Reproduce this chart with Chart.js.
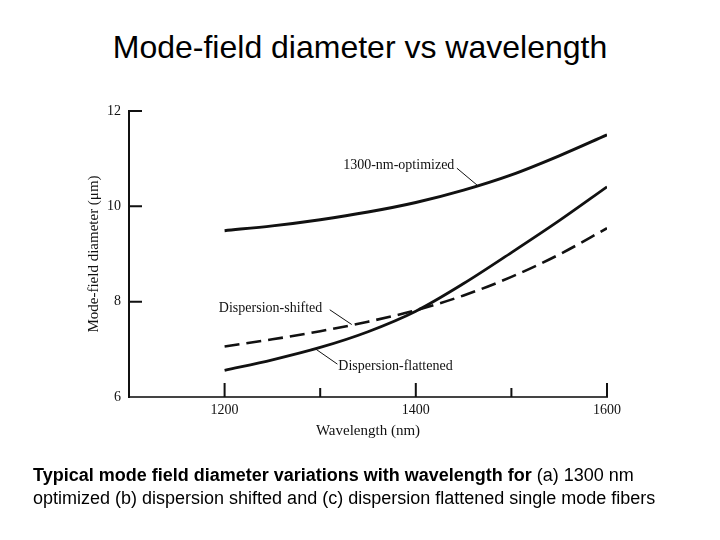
<!DOCTYPE html>
<html>
<head>
<meta charset="utf-8">
<script src="https://cdn.jsdelivr.net/npm/chart.js@4"></script>
<style>
  body { margin: 0; background: #fff; }
  #wrap { position: relative; width: 720px; height: 540px; overflow: hidden; }
  #my-chart { position: absolute; left: 0; top: 0; }
  #title {
    position: absolute; left: 0; top: 31px; width: 720px; text-align: center;
    font-family: "Liberation Sans", Arial, sans-serif; font-size: 32px; line-height: 32px; color: #000;
  }
  #caption {
    position: absolute; left: 33px; top: 464px; width: 680px;
    font-family: "Liberation Sans", Arial, sans-serif; font-size: 18px; line-height: 23px; color: #000;
  }
</style>
</head>
<body>
<div id="wrap">
  <div id="title">Mode-field diameter vs wavelength</div>
  <canvas id="my-chart" width="720" height="540"></canvas>
  <div id="caption"><b>Typical mode field diameter variations with wavelength for</b> (a) 1300 nm<br>optimized (b) dispersion shifted and (c) dispersion flattened single mode fibers</div>
</div>
<script>
//Data
const wavelengths = [1200, 1250, 1300, 1350, 1400, 1450, 1500, 1550, 1600];
const optimized1300 = [9.49, 9.59, 9.72, 9.88, 10.08, 10.34, 10.66, 11.06, 11.50];
const dispersionShifted = [7.06, 7.21, 7.38, 7.58, 7.82, 8.13, 8.52, 8.99, 9.54];
const dispersionFlattened = [6.56, 6.78, 7.04, 7.37, 7.80, 8.38, 9.03, 9.70, 10.41];
const xTickLabels = [1200, 1400, 1600];
const yTickLabels = [6, 8, 10, 12];

//Curve labels, in data units
const notes = [
  { text: "1300-nm-optimized", at: [1324, 10.87], from: [1443, 10.80], to: [1465, 10.43] },
  { text: "Dispersion-shifted", at: [1194, 7.86], from: [1310, 7.83], to: [1333, 7.52] },
  { text: "Dispersion-flattened", at: [1319, 6.64], from: [1318, 6.69], to: [1295, 7.01] },
];

const serif = '"Liberation Serif", "Times New Roman", serif';

function points(ys) {
  return wavelengths.map((w, i) => ({ x: w, y: ys[i] }));
}

const inwardTicks = {
  id: "inwardTicks",
  afterDraw(chart) {
    const { ctx, chartArea, scales } = chart;
    const x = scales.x;
    const y = scales.y;
    ctx.save();
    ctx.strokeStyle = "#111";
    ctx.lineWidth = 2;
    ctx.beginPath();
    y.ticks.forEach((t) => {
      if (t.value === y.min) return;
      const py = y.getPixelForValue(t.value);
      ctx.moveTo(chartArea.left, py);
      ctx.lineTo(chartArea.left + 13, py);
    });
    x.ticks.forEach((t) => {
      if (t.value === x.min) return;
      const px = x.getPixelForValue(t.value);
      const len = xTickLabels.includes(t.value) ? 14 : 9;
      ctx.moveTo(px, chartArea.bottom);
      ctx.lineTo(px, chartArea.bottom - len);
    });
    ctx.stroke();

    // curve labels with leader lines
    ctx.fillStyle = "#111";
    ctx.font = "14px " + serif;
    ctx.textAlign = "left";
    ctx.textBaseline = "middle";
    ctx.lineWidth = 1;
    notes.forEach((n) => {
      ctx.fillText(n.text, x.getPixelForValue(n.at[0]), y.getPixelForValue(n.at[1]));
      ctx.beginPath();
      ctx.moveTo(x.getPixelForValue(n.from[0]), y.getPixelForValue(n.from[1]));
      ctx.lineTo(x.getPixelForValue(n.to[0]), y.getPixelForValue(n.to[1]));
      ctx.stroke();
    });
    ctx.restore();
  },
};

const ctx = document.getElementById("my-chart").getContext("2d");

const data = {
  datasets: [
    {
      label: "1300-nm-optimized",
      data: points(optimized1300),
      borderColor: "#111",
      borderWidth: 3,
    },
    {
      label: "Dispersion-shifted",
      data: points(dispersionShifted),
      borderColor: "#111",
      borderWidth: 2.6,
      borderDash: [15, 7],
    },
    {
      label: "Dispersion-flattened",
      data: points(dispersionFlattened),
      borderColor: "#111",
      borderWidth: 2.8,
    },
  ],
};

const config = {
  type: "line",
  data: data,
  options: {
    responsive: false,
    animation: false,
    devicePixelRatio: 1,
    cubicInterpolationMode: "monotone",
    pointRadius: 0,
    fill: false,
    layout: {
      padding: { left: 81, right: 113, top: 111, bottom: 96 },
    },
    plugins: {
      legend: { display: false },
      tooltip: { enabled: false },
    },
    scales: {
      x: {
        type: "linear",
        min: 1100,
        max: 1600,
        afterFit: (s) => { s.height = 47; },
        grid: { display: false, drawTicks: false },
        border: { display: true, color: "#444", width: 2 },
        ticks: {
          stepSize: 100,
          autoSkip: false,
          maxRotation: 0,
          padding: 5,
          color: "#111",
          font: { family: serif, size: 14 },
          callback: (v) => (xTickLabels.includes(v) ? String(v) : ""),
        },
        title: {
          display: true,
          text: "Wavelength (nm)",
          color: "#111",
          font: { family: serif, size: 15 },
          padding: { top: 4, bottom: 4 },
        },
      },
      y: {
        min: 6,
        max: 12,
        afterFit: (s) => { s.width = 48; },
        grid: { display: false, drawTicks: false },
        border: { display: true, color: "#111", width: 2 },
        ticks: {
          stepSize: 2,
          padding: 8,
          color: "#111",
          font: { family: serif, size: 14 },
          callback: (v) => (yTickLabels.includes(v) ? String(v) : ""),
        },
        title: {
          display: true,
          text: "Mode-field diameter (μm)",
          color: "#111",
          font: { family: serif, size: 15 },
          padding: { top: 4, bottom: 4 },
        },
      },
    },
  },
  plugins: [inwardTicks],
};

new Chart(ctx, config);
</script>
</body>
</html>
